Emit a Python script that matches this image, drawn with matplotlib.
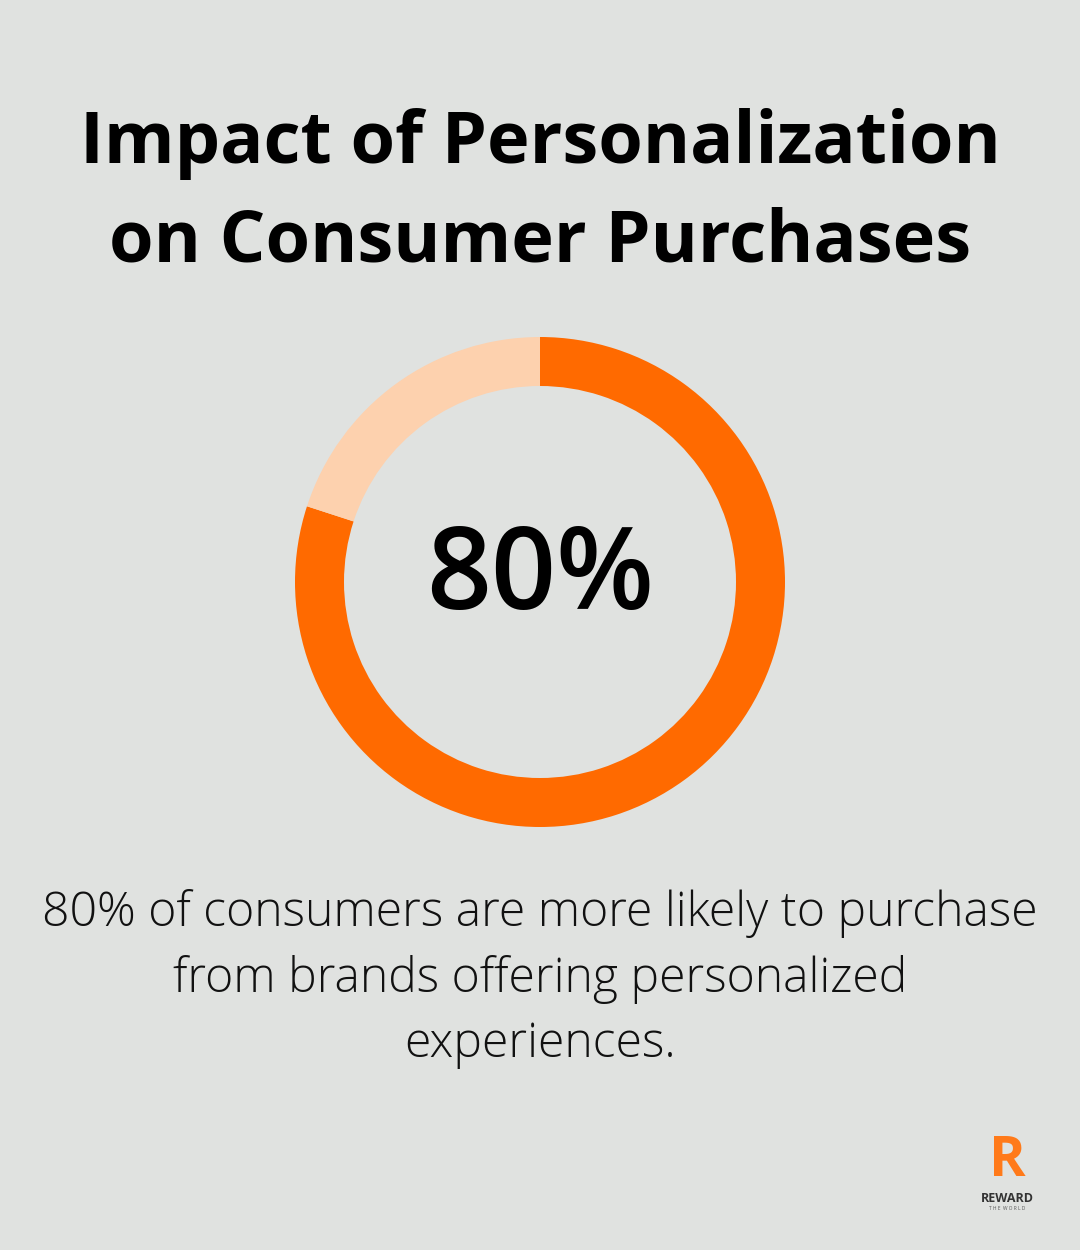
import matplotlib.pyplot as plt

title_lines = ["Impact of Personalization", "on Consumer Purchases"]
shares = [80, 20]
share_colors = ["#FF6A00", "#FDD1AE"]
center_label = "80%"
caption_lines = ["80% of consumers are more likely to purchase",
                 "from brands offering personalized",
                 "experiences."]

bg = "#E0E2E0"
fig = plt.figure(figsize=(10.8, 12.5), dpi=100, facecolor=bg)
ax = fig.add_axes([0, 0, 1, 1])
ax.set_facecolor(bg)

ax.pie(shares, colors=share_colors, startangle=90, counterclock=False,
       radius=245, center=(540, 1250 - 582),
       wedgeprops=dict(width=49, linewidth=0), frame=True)
ax.set_xlim(0, 1080)
ax.set_ylim(0, 1250)
ax.set_aspect("equal")
ax.axis("off")

for i, line in enumerate(title_lines):
    ax.text(540, 1250 - 144 - i * 98, line, ha="center", va="center",
            fontsize=51.8, fontweight="bold", family="Open Sans", color="#000000")

ax.text(540, 1250 - 580, center_label, ha="center", va="center",
        fontsize=82, fontweight="semibold", family="Open Sans", color="#000000")

for i, line in enumerate(caption_lines):
    ax.text(540, 1250 - 913 - i * 66, line, ha="center", va="center",
            fontsize=34.7, fontweight="light", family="Open Sans", color="#111111")

# logo
ax.text(1007, 1250 - 1162, "R", ha="center", va="center", fontsize=40,
        fontweight="bold", family="Open Sans", color="#FF7A1A")
ax.text(1007, 1250 - 1199, "REWARD", ha="center", va="center", fontsize=9,
        fontweight="bold", family="Open Sans", color="#333333")
ax.text(1007, 1250 - 1209, "T H E  W O R L D", ha="center", va="center",
        fontsize=3.5, family="Open Sans", color="#555555")

fig.savefig("out.png", dpi=100, facecolor=bg)
